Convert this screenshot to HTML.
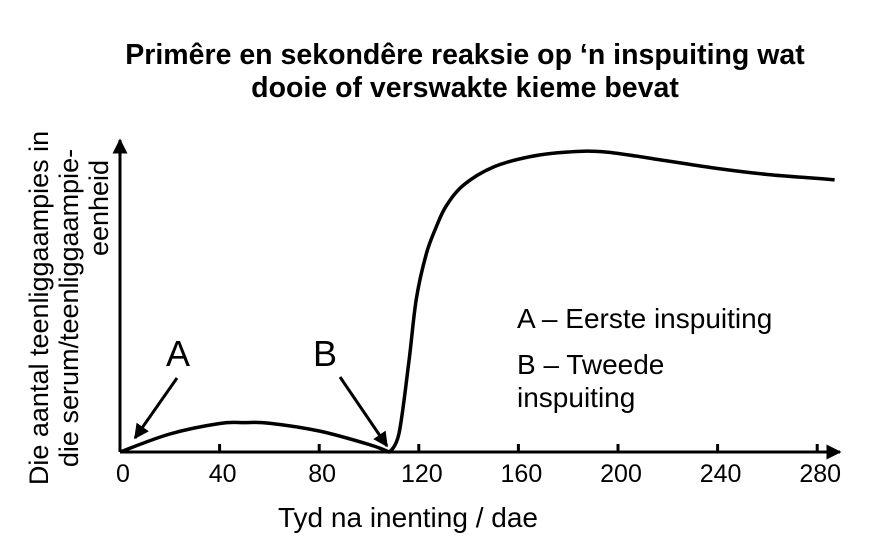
<!DOCTYPE html>
<html><head><meta charset="utf-8"><style>
body{margin:0;background:#fff}
svg{display:block;font-family:"Liberation Sans",sans-serif}
</style></head><body>
<svg width="896" height="547" viewBox="0 0 896 547">
<defs><marker id="ah" viewBox="0 0 10 10" refX="9" refY="5" markerWidth="5" markerHeight="5" orient="auto"><path d="M0,0L10,5L0,10z" fill="#000"/></marker></defs>
<g font-weight="bold" font-size="28.5" text-anchor="middle">
<text x="465" y="64">Primêre en sekondêre reaksie op ‘n inspuiting wat</text>
<text x="465" y="97">dooie of verswakte kieme bevat</text></g>
<g font-size="27" text-anchor="middle">
<text transform="translate(48,308) rotate(-90)">Die aantal teenliggaampies in</text>
<text transform="translate(78,308) rotate(-90)">die serum/teenliggaampie-</text>
<text transform="translate(108,208) rotate(-90)">eenheid</text></g>
<line x1="120" y1="452" x2="120" y2="140" stroke="#000" stroke-width="3" marker-end="url(#ah)"/>
<line x1="120" y1="452" x2="840" y2="452" stroke="#000" stroke-width="3" marker-end="url(#ah)"/>
<g id="ticks"></g>
<text x="408" y="527" font-size="28" text-anchor="middle">Tyd na inenting / dae</text>
<path id="curve" fill="none" stroke="#000" stroke-width="3.5"/>
<text x="178" y="366" font-size="36" text-anchor="middle">A</text>
<text x="325" y="366" font-size="36" text-anchor="middle">B</text>
<line x1="177" y1="378" x2="135" y2="438" stroke="#000" stroke-width="3" marker-end="url(#ah)"/>
<line x1="340" y1="377" x2="387" y2="446" stroke="#000" stroke-width="3" marker-end="url(#ah)"/>
<g font-size="28">
<text x="517" y="328">A – Eerste inspuiting</text>
<text x="517" y="374">B – Tweede</text>
<text x="517" y="407">inspuiting</text></g>
</svg>
<script>
const tickLabels=[0,40,80,120,160,200,240,280];
const days=[0,20,40,50,60,80,100,108,112,116,119,123,127,131,138,150,165,180,195,220,240,260,280,287];
const values=[0,6,9.5,9.8,9.6,7,2.5,0,6,30,51,66,75,82,89,95,98.5,100,100,97,94.5,92.5,91.2,90.7];
const X=d=>120+d*2.49, Y=v=>452-v*3;
const tg=document.getElementById('ticks');
const NS='http://www.w3.org/2000/svg';
tickLabels.forEach(t=>{
 if(t>0){const l=document.createElementNS(NS,'line');
 
 
 l.setAttribute('x1',X(t));l.setAttribute('x2',X(t));l.setAttribute('y1',444);l.setAttribute('y2',452);
 l.setAttribute('stroke','#000');l.setAttribute('stroke-width','3');tg.appendChild(l);}
 const s=document.createElementNS(NS,'text');
 
 
 s.setAttribute('x',X(t)+(t==0?3:3));s.setAttribute('y',482);s.setAttribute('font-size','25');s.setAttribute('text-anchor','middle');
 s.textContent=t;tg.appendChild(s);
});
const p=days.map((d,i)=>[X(d),Y(values[i])]);
let d='M'+p[0][0]+','+p[0][1];
for(let i=0;i<p.length-1;i++){
 const p0=p[i-1]||p[i],p1=p[i],p2=p[i+1],p3=p[i+2]||p2;
 const a=(i==7)?0:1/6, b=(i==6)?0:1/6;
 d+=` C${p1[0]+(p2[0]-p0[0])*a},${p1[1]+(p2[1]-p0[1])*a} ${p2[0]-(p3[0]-p1[0])*b},${p2[1]-(p3[1]-p1[1])*b} ${p2[0]},${p2[1]}`;
}
document.getElementById('curve').setAttribute('d',d);
</script>
</body></html>
